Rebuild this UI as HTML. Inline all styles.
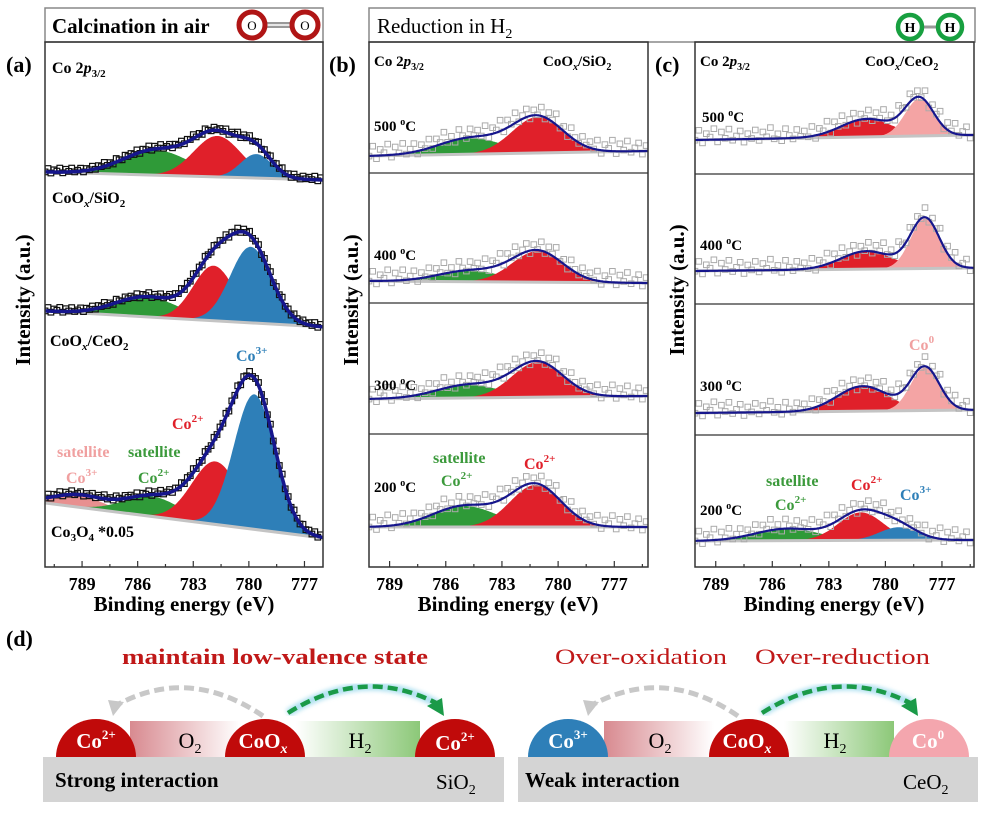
<!DOCTYPE html>
<html><head><meta charset="utf-8"><style>
body{margin:0;background:#fff;}
svg text{font-family:"Liberation Serif",serif;}
</style></head><body>
<svg id="fig" width="987" height="809" viewBox="0 0 987 809" xmlns="http://www.w3.org/2000/svg" font-weight="bold">
<defs>
<linearGradient id="gO2" x1="0" x2="1"><stop offset="0" stop-color="#d88a90"/><stop offset="1" stop-color="#ffffff"/></linearGradient>
<linearGradient id="gH2" x1="0" x2="1"><stop offset="0" stop-color="#ffffff"/><stop offset="1" stop-color="#8cc878"/></linearGradient>
<clipPath id="clipA"><rect x="45" y="42" width="278" height="525"/></clipPath>
<clipPath id="clipB"><rect x="369" y="42" width="279" height="525"/></clipPath>
<clipPath id="clipC"><rect x="695" y="42" width="279" height="525"/></clipPath>
<filter id="glow"><feGaussianBlur stdDeviation="2"/></filter>
</defs>

<g>
<rect x="45" y="8" width="278" height="34" fill="#fff" stroke="#888" stroke-width="1.5"/>
<text x="52" y="33" font-size="21">Calcination in air</text>
<line x1="252" y1="25" x2="305" y2="25" stroke="#999" stroke-width="6"/>
<line x1="252" y1="25" x2="305" y2="25" stroke="#fff" stroke-width="1.5"/>
<circle cx="252" cy="25" r="13" fill="#fff" stroke="#b01515" stroke-width="5"/>
<circle cx="305" cy="25" r="13" fill="#fff" stroke="#b01515" stroke-width="5"/>
<text x="252" y="30" font-size="13" font-weight="normal" text-anchor="middle">O</text>
<text x="305" y="30" font-size="13" font-weight="normal" text-anchor="middle">O</text>
</g>
<g>
<rect x="369" y="8" width="606" height="34" fill="#fff" stroke="#888" stroke-width="1.5"/>
<text x="377" y="33" font-size="21" font-weight="normal">Reduction in H<tspan font-size="14" dy="5">2</tspan></text>
<line x1="910" y1="27" x2="950" y2="27" stroke="#999" stroke-width="3"/>
<circle cx="910" cy="27" r="12" fill="#fff" stroke="#18a040" stroke-width="4.5"/>
<circle cx="950" cy="27" r="12" fill="#fff" stroke="#18a040" stroke-width="4.5"/>
<text x="910" y="32" font-size="14" text-anchor="middle">H</text>
<text x="950" y="32" font-size="14" text-anchor="middle">H</text>
</g>

<g id="plots"></g>

<rect x="45" y="42" width="278" height="525" fill="none" stroke="#333" stroke-width="1.5"/>
<rect x="369" y="42" width="279" height="525" fill="none" stroke="#333" stroke-width="1.5"/>
<rect x="695" y="42" width="279" height="525" fill="none" stroke="#333" stroke-width="1.5"/>
<g stroke="#333" stroke-width="1.2">
<line x1="369" y1="173" x2="648" y2="173"/><line x1="369" y1="303" x2="648" y2="303"/><line x1="369" y1="434" x2="648" y2="434"/>
<line x1="695" y1="174" x2="974" y2="174"/><line x1="695" y1="304" x2="974" y2="304"/><line x1="695" y1="435" x2="974" y2="435"/>
</g>

<text x="6" y="72" font-size="22">(a)</text>
<text x="329" y="72" font-size="22">(b)</text>
<text x="655" y="72" font-size="22">(c)</text>
<text x="6" y="646" font-size="22">(d)</text>

<text x="52" y="73" font-size="16">Co 2<tspan font-style="italic">p</tspan><tspan font-size="11" dy="4">3/2</tspan></text>
<text x="52" y="203" font-size="16">CoO<tspan font-style="italic" font-size="11" dy="4">x</tspan><tspan dy="-4">/SiO</tspan><tspan font-size="11" dy="4">2</tspan></text>
<text x="50" y="346" font-size="16">CoO<tspan font-style="italic" font-size="11" dy="4">x</tspan><tspan dy="-4">/CeO</tspan><tspan font-size="11" dy="4">2</tspan></text>
<text x="51" y="537" font-size="16">Co<tspan font-size="11" dy="4">3</tspan><tspan dy="-4">O</tspan><tspan font-size="11" dy="4">4</tspan><tspan dy="-4"> *0.05</tspan></text>
<text x="236" y="361" font-size="16" fill="#2e7fb8">Co<tspan font-size="11" dy="-7">3+</tspan></text>
<text x="172" y="429" font-size="16" fill="#e0202a">Co<tspan font-size="11" dy="-7">2+</tspan></text>
<text x="57" y="457" font-size="16" fill="#f0a0a0">satellite</text>
<text x="128" y="457" font-size="16" fill="#3c9a3c">satellite</text>
<text x="66" y="483" font-size="16" fill="#f0a0a0">Co<tspan font-size="11" dy="-7">3+</tspan></text>
<text x="138" y="483" font-size="16" fill="#3c9a3c">Co<tspan font-size="11" dy="-7">2+</tspan></text>

<text x="374" y="66" font-size="15">Co 2<tspan font-style="italic">p</tspan><tspan font-size="10" dy="4">3/2</tspan></text>
<text x="543" y="66" font-size="15">CoO<tspan font-style="italic" font-size="10" dy="4">x</tspan><tspan dy="-4">/SiO</tspan><tspan font-size="10" dy="4">2</tspan></text>
<text x="374" y="131" font-size="15">500 <tspan font-size="10" dy="-6">o</tspan><tspan dy="6">C</tspan></text>
<text x="374" y="260" font-size="15">400 <tspan font-size="10" dy="-6">o</tspan><tspan dy="6">C</tspan></text>
<text x="374" y="390" font-size="15">300 <tspan font-size="10" dy="-6">o</tspan><tspan dy="6">C</tspan></text>
<text x="374" y="492" font-size="15">200 <tspan font-size="10" dy="-6">o</tspan><tspan dy="6">C</tspan></text>
<text x="433" y="463" font-size="16" fill="#3c9a3c">satellite</text>
<text x="441" y="486" font-size="16" fill="#3c9a3c">Co<tspan font-size="11" dy="-7">2+</tspan></text>
<text x="524" y="469" font-size="16" fill="#e0202a">Co<tspan font-size="11" dy="-7">2+</tspan></text>

<text x="700" y="66" font-size="15">Co 2<tspan font-style="italic">p</tspan><tspan font-size="10" dy="4">3/2</tspan></text>
<text x="865" y="66" font-size="15">CoO<tspan font-style="italic" font-size="10" dy="4">x</tspan><tspan dy="-4">/CeO</tspan><tspan font-size="10" dy="4">2</tspan></text>
<text x="702" y="122" font-size="15">500 <tspan font-size="10" dy="-6">o</tspan><tspan dy="6">C</tspan></text>
<text x="700" y="250" font-size="15">400 <tspan font-size="10" dy="-6">o</tspan><tspan dy="6">C</tspan></text>
<text x="700" y="391" font-size="15">300 <tspan font-size="10" dy="-6">o</tspan><tspan dy="6">C</tspan></text>
<text x="700" y="515" font-size="15">200 <tspan font-size="10" dy="-6">o</tspan><tspan dy="6">C</tspan></text>
<text x="909" y="350" font-size="16" fill="#f0a0a0">Co<tspan font-size="11" dy="-7">0</tspan></text>
<text x="766" y="486" font-size="16" fill="#3c9a3c">satellite</text>
<text x="775" y="510" font-size="16" fill="#3c9a3c">Co<tspan font-size="11" dy="-7">2+</tspan></text>
<text x="851" y="490" font-size="16" fill="#e0202a">Co<tspan font-size="11" dy="-7">2+</tspan></text>
<text x="900" y="500" font-size="16" fill="#2e7fb8">Co<tspan font-size="11" dy="-7">3+</tspan></text>

<text transform="translate(30,300) rotate(-90)" font-size="21" text-anchor="middle">Intensity (a.u.)</text>
<text transform="translate(358,300) rotate(-90)" font-size="21" text-anchor="middle">Intensity (a.u.)</text>
<text transform="translate(684,290) rotate(-90)" font-size="21" text-anchor="middle">Intensity (a.u.)</text>
<text x="184" y="611" font-size="21" text-anchor="middle">Binding energy (eV)</text>
<text x="508" y="611" font-size="21" text-anchor="middle">Binding energy (eV)</text>
<text x="834" y="611" font-size="21" text-anchor="middle">Binding energy (eV)</text>

<g>
<text x="122" y="664" font-size="22" fill="#c01818" textLength="306" lengthAdjust="spacingAndGlyphs">maintain low-valence state</text>
<text x="555" y="664" font-size="22" fill="#c01818" font-weight="normal" textLength="172" lengthAdjust="spacingAndGlyphs">Over-oxidation</text>
<text x="755" y="664" font-size="22" fill="#c01818" font-weight="normal" textLength="175" lengthAdjust="spacingAndGlyphs">Over-reduction</text>

<rect x="43" y="757" width="461" height="45" fill="#d4d4d4"/>
<rect x="518" y="757" width="460" height="45" fill="#d4d4d4"/>
<rect x="130" y="721" width="110" height="36" fill="url(#gO2)"/>
<rect x="296" y="721" width="124" height="36" fill="url(#gH2)"/>
<rect x="604" y="721" width="110" height="36" fill="url(#gO2)"/>
<rect x="784" y="721" width="110" height="36" fill="url(#gH2)"/>
<text x="190" y="748" font-size="22" font-weight="normal" text-anchor="middle">O<tspan font-size="14" dy="5">2</tspan></text>
<text x="360" y="748" font-size="22" font-weight="normal" text-anchor="middle">H<tspan font-size="14" dy="5">2</tspan></text>
<text x="660" y="748" font-size="22" font-weight="normal" text-anchor="middle">O<tspan font-size="14" dy="5">2</tspan></text>
<text x="835" y="748" font-size="22" font-weight="normal" text-anchor="middle">H<tspan font-size="14" dy="5">2</tspan></text>

<path d="M56 757 A40 38 0 0 1 136 757 Z" fill="#c00a0a"/>
<path d="M225 757 A40 38 0 0 1 305 757 Z" fill="#c00a0a"/>
<path d="M415 757 A40 38 0 0 1 495 757 Z" fill="#c00a0a"/>
<path d="M528 757 A40 38 0 0 1 608 757 Z" fill="#2e7fb8"/>
<path d="M709 757 A40 38 0 0 1 789 757 Z" fill="#c00a0a"/>
<path d="M889 757 A40 38 0 0 1 969 757 Z" fill="#f4a6ae"/>
<g fill="#fff" font-size="21" text-anchor="middle">
<text x="96" y="748">Co<tspan font-size="13" dy="-9">2+</tspan></text>
<text x="263" y="748">CoO<tspan font-size="14" font-style="italic" dy="5">x</tspan></text>
<text x="455" y="750">Co<tspan font-size="13" dy="-9">2+</tspan></text>
<text x="568" y="748">Co<tspan font-size="13" dy="-9">3+</tspan></text>
<text x="747" y="748">CoO<tspan font-size="14" font-style="italic" dy="5">x</tspan></text>
<text x="928" y="748">Co<tspan font-size="13" dy="-9">0</tspan></text>
</g>
<text x="55" y="787" font-size="21">Strong interaction</text>
<text x="436" y="789" font-size="21" font-weight="normal">SiO<tspan font-size="14" dy="5">2</tspan></text>
<text x="525" y="787" font-size="21">Weak interaction</text>
<text x="903" y="789" font-size="21" font-weight="normal">CeO<tspan font-size="14" dy="5">2</tspan></text>

<path d="M263 716 Q188 665 115 706" fill="none" stroke="#c8c8c8" stroke-width="5" stroke-dasharray="10 5"/>
<path d="M108 700 L113 716 L124 702 Z" fill="#c8c8c8"/>
<path d="M288 713 Q364 665 438 704" fill="none" stroke="#aee0f0" stroke-width="8" filter="url(#glow)"/>
<path d="M288 713 Q364 665 438 704" fill="none" stroke="#1a9a48" stroke-width="4.5" stroke-dasharray="10 5"/>
<path d="M444 716 L427 706 L442 698 Z" fill="#1a9a48"/>
<path d="M738 716 Q664 665 590 706" fill="none" stroke="#c8c8c8" stroke-width="5" stroke-dasharray="10 5"/>
<path d="M583 700 L588 716 L599 702 Z" fill="#c8c8c8"/>
<path d="M762 713 Q838 665 912 704" fill="none" stroke="#aee0f0" stroke-width="8" filter="url(#glow)"/>
<path d="M762 713 Q838 665 912 704" fill="none" stroke="#1a9a48" stroke-width="4.5" stroke-dasharray="10 5"/>
<path d="M918 716 L901 706 L916 698 Z" fill="#1a9a48"/>
</g>
</svg>

<script>
// ---- data ----
const tickLabels = [789, 786, 783, 780, 777];
const noise = [0.6,-0.8,1.0,-0.3,0.2,-1.0,0.9,-0.5,0.4,-0.9,0.7,0.1,-0.6,1.0,-0.2,0.5,-0.7,0.8,-0.4,0.3,-1.0,0.6,-0.1,0.9,-0.8,0.2,0.7,-0.6,0.4,-0.3];
const a1Centers = [785.0, 781.7, 779.6];
const a1Heights = [25, 41, 24];
const a1Widths = [4.2, 3.0, 2.0];
const a2Centers = [785.5, 781.9, 779.9];
const a2Heights = [20, 55, 76];
const a2Widths = [4.0, 2.6, 2.6];
const a3Centers = [789.2, 785.2, 781.8, 779.7];
const a3Heights = [12, 20, 63, 135];
const a3Widths = [3.2, 3.6, 3.0, 2.6];
const b500Centers = [784.7, 781.1]; const b500Heights = [16, 36]; const b500Widths = [4.0, 3.2];
const b400Centers = [784.7, 781.1]; const b400Heights = [11, 31]; const b400Widths = [4.0, 3.2];
const b300Centers = [784.8, 781.1]; const b300Heights = [13, 35]; const b300Widths = [4.0, 3.2];
const b200Centers = [785.0, 781.2]; const b200Heights = [21, 42]; const b200Widths = [4.0, 3.2];
const c500Centers = [781.0, 778.2]; const c500Heights = [18, 37]; const c500Widths = [3.2, 1.8];
const c400Centers = [781.0, 777.9]; const c400Heights = [18, 50]; const c400Widths = [3.2, 1.8];
const c300Centers = [781.2, 777.9]; const c300Heights = [25, 43]; const c300Widths = [3.2, 1.8];
const c200Centers = [785.2, 781.3, 779.3]; const c200Heights = [12, 28, 13]; const c200Widths = [4.0, 2.8, 2.4];

const GREEN = '#2f9a38', RED = '#e0202a', BLUE = '#2e7fb8', PINK = '#e89090', LPINK = '#f4a4a4';
const NS = 'http://www.w3.org/2000/svg';
const root = document.getElementById('plots');

function mk(tag, attrs, parent) {
  const e = document.createElementNS(NS, tag);
  for (const k in attrs) e.setAttribute(k, attrs[k]);
  parent.appendChild(e);
  return e;
}
function gauss(E, c, w) { const s = w / 2.3548; return Math.exp(-((E - c) * (E - c)) / (2 * s * s)); }

const panels = {
  a: { x0: 45, x1: 323, E0: 791.0, E1: 776.0, clip: 'clipA', scatter: '#111', amp: 2.5, off: 1.5, env: 3.5, sw: 1.2, step: 0.16 },
  b: { x0: 369, x1: 648, E0: 790.1, E1: 775.2, clip: 'clipB', scatter: '#aaaaaa', amp: 7, off: 4, env: 2.2, sw: 1, step: 0.2 },
  c: { x0: 695, x1: 974, E0: 790.1, E1: 775.3, clip: 'clipC', scatter: '#aaaaaa', amp: 7, off: 4, env: 2.2, sw: 1, step: 0.2 }
};
function xs(p, E) { return p.x0 + (p.E0 - E) / (p.E0 - p.E1) * (p.x1 - p.x0); }

function spectrum(pk, name, yL, yR, centers, heights, widths, colors) {
  const p = panels[pk];
  const g = mk('g', { 'clip-path': 'url(#' + p.clip + ')' }, root);
  
  
  const base = E => yL + (p.E0 - E) / (p.E0 - p.E1) * (yR - yL);
  const step = 0.05;
  centers.forEach((c, i) => {
    let d = '';
    const lo = Math.max(p.E1, c - widths[i] * 2.2), hi = Math.min(p.E0, c + widths[i] * 2.2);
    for (let E = hi; E >= lo; E -= step) {
      d += (d ? 'L' : 'M') + xs(p, E).toFixed(1) + ' ' + (base(E) - heights[i] * gauss(E, c, widths[i])).toFixed(1);
    }
    d += 'L' + xs(p, lo).toFixed(1) + ' ' + base(lo).toFixed(1) + 'L' + xs(p, hi).toFixed(1) + ' ' + base(hi).toFixed(1) + 'Z';
    const comp = mk('path', { d: d, fill: colors[i] }, g);
    
    
  });
  const bl = mk('line', { x1: p.x0, y1: yL, x2: p.x1, y2: yR, stroke: '#c4c4c4', 'stroke-width': 3 }, g);
  
  
  const env = E => { let s = 0; centers.forEach((c, i) => s += heights[i] * gauss(E, c, widths[i])); return base(E) - s; };
  let k = 0;
  for (let E = p.E0; E >= p.E1; E -= p.step) {
    const y = env(E) + noise[k % noise.length] * p.amp - p.off;
    const r = mk('rect', { x: (xs(p, E) - 2.8).toFixed(1), y: (y - 2.8).toFixed(1), width: 5.6, height: 5.6, fill: 'none', stroke: p.scatter, 'stroke-width': p.sw }, g);
    
    
    k++;
  }
  let d = '';
  for (let E = p.E0; E >= p.E1 - 0.01; E -= step) d += (d ? 'L' : 'M') + xs(p, E).toFixed(1) + ' ' + env(E).toFixed(1);
  const fit = mk('path', { d: d, fill: 'none', stroke: '#16168c', 'stroke-width': p.env }, g);
  
  
}

spectrum('a', 'a-coox-sio2', 172, 180, a1Centers, a1Heights, a1Widths, [GREEN, RED, BLUE]);
spectrum('a', 'a-coox-ceo2', 311, 327, a2Centers, a2Heights, a2Widths, [GREEN, RED, BLUE]);
spectrum('a', 'a-co3o4', 503, 538, a3Centers, a3Heights, a3Widths, [PINK, GREEN, RED, BLUE]);
spectrum('b', 'b-500', 156, 151, b500Centers, b500Heights, b500Widths, [GREEN, RED]);
spectrum('b', 'b-400', 281, 283, b400Centers, b400Heights, b400Widths, [GREEN, RED]);
spectrum('b', 'b-300', 399, 396, b300Centers, b300Heights, b300Widths, [GREEN, RED]);
spectrum('b', 'b-200', 527, 527, b200Centers, b200Heights, b200Widths, [GREEN, RED]);
spectrum('c', 'c-500', 140, 135, c500Centers, c500Heights, c500Widths, [RED, LPINK]);
spectrum('c', 'c-400', 271, 268, c400Centers, c400Heights, c400Widths, [RED, LPINK]);
spectrum('c', 'c-300', 413, 410, c300Centers, c300Heights, c300Widths, [RED, LPINK]);
spectrum('c', 'c-200', 541, 540, c200Centers, c200Heights, c200Widths, [GREEN, RED, BLUE]);

['a', 'b', 'c'].forEach(pk => {
  const p = panels[pk];
  const g = mk('g', {}, root);
  
  
  for (let E = 790.5; E >= p.E1; E -= 1.5) {
    if (E > p.E0) continue;
    const x = xs(p, E);
    const major = tickLabels.indexOf(E) >= 0;
    mk('line', { x1: x, y1: 567, x2: x, y2: major ? 561 : 564, stroke: '#333', 'stroke-width': 1.2 }, g);
  }
  tickLabels.forEach(v => {
    const t = mk('text', { x: xs(p, v), y: 590, 'font-size': 18, 'text-anchor': 'middle' }, g);
    
    
    t.textContent = v;
  });
});
</script>
</body></html>
